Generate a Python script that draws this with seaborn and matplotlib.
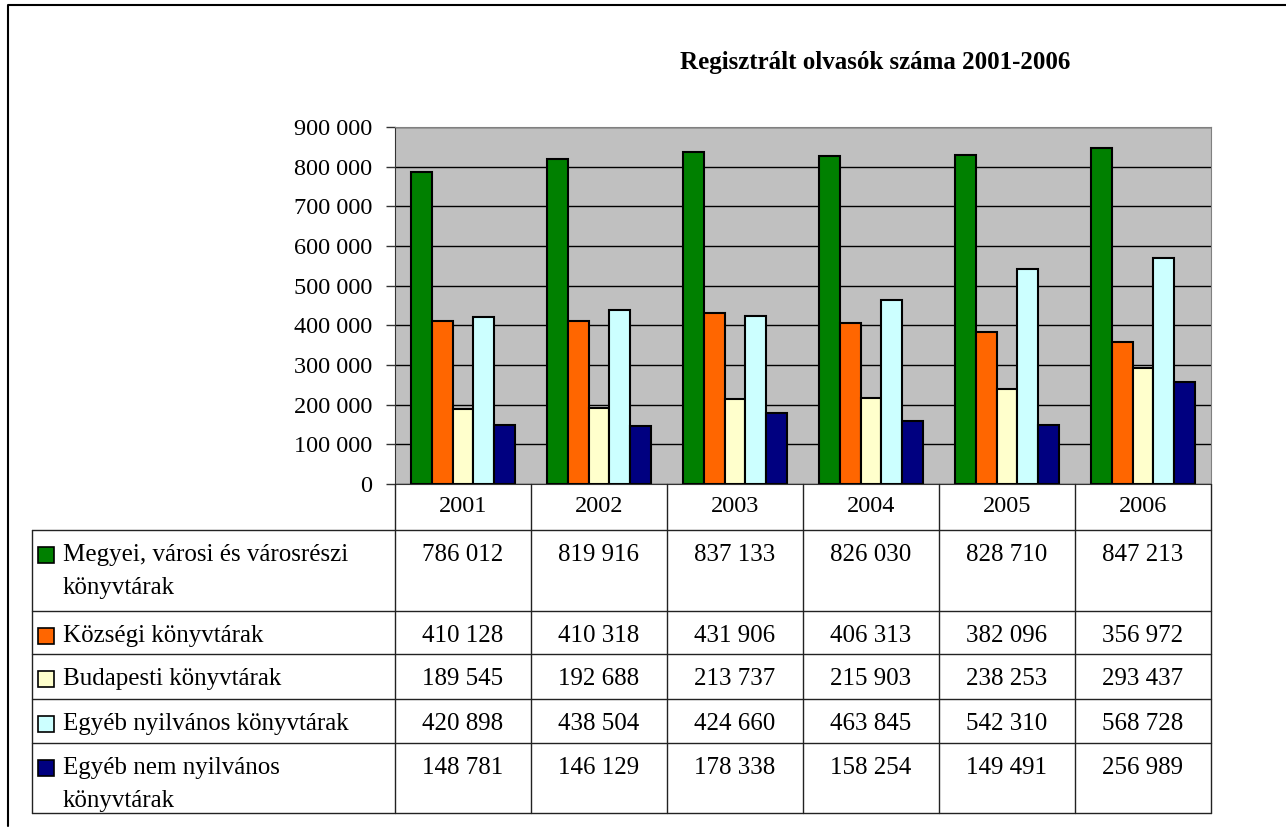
import seaborn as sns
import matplotlib.pyplot as plt
import pandas as pd
from matplotlib.lines import Line2D
from matplotlib.patches import Rectangle
from matplotlib.transforms import blended_transform_factory

# data
years = ["2001", "2002", "2003", "2004", "2005", "2006"]
series = [
    "Megyei, városi és városrészi\nkönyvtárak",
    "Községi könyvtárak",
    "Budapesti könyvtárak",
    "Egyéb nyilvános könyvtárak",
    "Egyéb nem nyilvános\nkönyvtárak",
]
megyei = [786012, 819916, 837133, 826030, 828710, 847213]
kozsegi = [410128, 410318, 431906, 406313, 382096, 356972]
budapesti = [189545, 192688, 213737, 215903, 238253, 293437]
egyeb_nyilv = [420898, 438504, 424660, 463845, 542310, 568728]
egyeb_nem = [148781, 146129, 178338, 158254, 149491, 256989]
colors = ["#008000", "#FF6600", "#FFFFCC", "#CCFFFF", "#000080"]

values = [megyei, kozsegi, budapesti, egyeb_nyilv, egyeb_nem]
rows = []
for s, vals in zip(series, values):
    for y, v in zip(years, vals):
        rows.append({"year": y, "series": s, "value": v})
df = pd.DataFrame(rows)

sns.set_style("white")
plt.rcParams["font.family"] = ["Liberation Serif", "DejaVu Serif"]
plt.rcParams["text.color"] = "black"
plt.rcParams["ytick.labelcolor"] = "black"

W, H = 1286, 831
fig = plt.figure(figsize=(W / 100, H / 100), dpi=100)


def fx(px):
    return px / W


def fy(py):
    return 1 - py / H


ax = fig.add_axes([fx(395), fy(484), (1211 - 395) / W, (484 - 127) / H])
sns.barplot(data=df, x="year", y="value", hue="series", order=years,
            hue_order=series, palette=colors, saturation=1, width=0.76,
            edgecolor="black", linewidth=1.5, legend=False, ax=ax)

ax.set_facecolor("#C0C0C0")
ax.set_xlim(-0.5, len(years) - 0.5)
ax.set_ylim(0, 900000)
ticks = list(range(0, 900001, 100000))
ax.set_yticks(ticks)
ax.set_yticklabels([f"{t:,}".replace(",", " ") for t in ticks], fontsize=17.5,
                   color="black")
ax.set_xticks([])
ax.set_xlabel("")
ax.set_ylabel("")
ax.yaxis.grid(True, color="black", linewidth=1)
ax.set_axisbelow(True)
ax.tick_params(axis="y", left=True, length=6.5, width=1, pad=10, color="#333333")
for side in ["top", "right"]:
    ax.spines[side].set_color("#808080")
ax.spines["left"].set_color("#333333")
ax.spines["bottom"].set_color("#333333")

fig.text(fx(875), fy(62), "Regisztrált olvasók száma 2001-2006",
         ha="center", va="center", fontsize=18, fontweight="bold",
         color="black")

# data table below the plot
trans = blended_transform_factory(ax.transData, fig.transFigure)
line_kw = dict(color="#222222", linewidth=1)
row_edges = [530, 611, 654, 699, 743, 813]

for i in range(len(years) + 1):
    fig.add_artist(Line2D([i - 0.5, i - 0.5], [fy(484), fy(813)],
                          transform=trans, **line_kw))
for e in row_edges:
    fig.add_artist(Line2D([fx(32), fx(1211)], [fy(e), fy(e)], **line_kw))
fig.add_artist(Line2D([fx(32), fx(32)], [fy(530), fy(813)], **line_kw))

for i, y in enumerate(years):
    fig.text(i, fy(507), y, transform=trans, ha="center", va="center",
             fontsize=17.5, color="black")

for r, (s, vals, c) in enumerate(zip(series, values, colors)):
    top = row_edges[r] + 25
    fig.add_artist(Rectangle((fx(38), fy(top + 8)), 16 / W, 16 / H,
                             facecolor=c, edgecolor="black", linewidth=1.2))
    for k, line in enumerate(s.split("\n")):
        fig.text(fx(63), fy(top + 33 * k), line, ha="left", va="center",
                 fontsize=18, color="black")
    for i, v in enumerate(vals):
        fig.text(i, fy(top), f"{v:,}".replace(",", " "), transform=trans,
                 ha="center", va="center", fontsize=18, color="black")

# outer frame
fig.add_artist(Line2D([fx(8), fx(8), fx(1286)], [fy(826), fy(5), fy(5)],
                      color="black", linewidth=1.5))

plt.savefig("out.png", dpi=100)
